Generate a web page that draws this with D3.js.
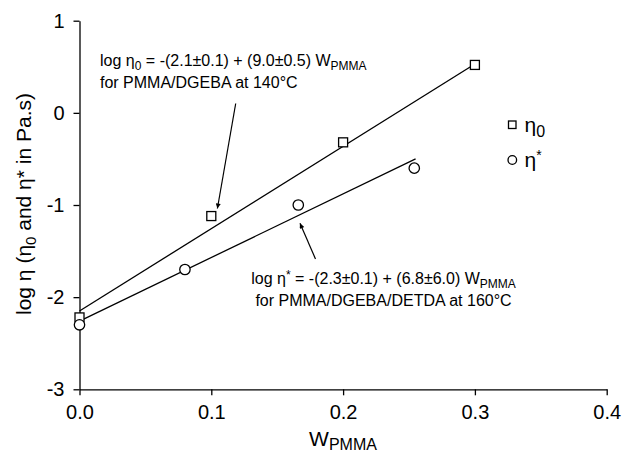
<!DOCTYPE html>
<html>
<head>
<meta charset="utf-8">
<script src="https://cdn.jsdelivr.net/npm/d3@7"></script>
<style>
  html, body { margin: 0; padding: 0; background: #fff; }
  svg { display: block; }
  text { font-family: "Liberation Sans", Arial, Helvetica, sans-serif; fill: #000; }
</style>
</head>
<body>
<svg id="chart" width="622" height="457"></svg>
<script>
// Zero-shear viscosity (squares) and complex viscosity (circles) vs PMMA weight fraction
const wEta0 = [0, 0.1, 0.2, 0.3];
const logEta0 = [-2.22, -1.12, -0.32, 0.52];

const wEtaStar = [0, 0.08, 0.166, 0.254];
const logEtaStar = [-2.30, -1.70, -1.00, -0.60];

// Linear fits, as end points
const fitEta0W = [0, 0.3];
const fitEta0 = [-2.15, 0.53];
const fitStarW = [0, 0.255];
const fitStar = [-2.26, -0.50];

const xTicks = [0, 0.1, 0.2, 0.3, 0.4];
const yTicks = [-3, -2, -1, 0, 1];

const svg = d3.select("#chart");

const x = d3.scaleLinear().domain([0, 0.4]).range([79.5, 606.7]);
const y = d3.scaleLinear().domain([-3, 1]).range([389.3, 20.7]);

// Axes
const xAxis = d3.axisBottom(x).tickValues(xTicks).tickFormat(d3.format(".1f"))
  .tickSize(6).tickSizeOuter(0).tickPadding(10);
const yAxis = d3.axisLeft(y).tickValues(yTicks).tickFormat(d => String(d))
  .tickSize(6).tickSizeOuter(0).tickPadding(9);

const gx = svg.append("g").attr("transform", `translate(0,${y(-3)})`).call(xAxis);
const gy = svg.append("g").attr("transform", `translate(${x(0)},0)`).call(yAxis);

[gx, gy].forEach(g => {
  g.selectAll("path.domain").attr("stroke", "#000").attr("stroke-width", 1.3);
  g.selectAll(".tick line").attr("stroke", "#000").attr("stroke-width", 1.3);
  g.selectAll(".tick text").style("font-size", "20px").attr("fill", "#000");
});

// Axis titles
const xTitle = svg.append("text").attr("x", 343).attr("y", 446)
  .attr("text-anchor", "middle").style("font-size", "21px");
xTitle.append("tspan").text("W");
xTitle.append("tspan").attr("dy", 4).style("font-size", "16px").text("PMMA");

const yTitle = svg.append("text")
  .attr("transform", "translate(31,204) rotate(-90)")
  .attr("text-anchor", "middle").style("font-size", "21px");
yTitle.append("tspan").text("log η (η");
yTitle.append("tspan").attr("dy", 5).style("font-size", "15px").text("0");
yTitle.append("tspan").attr("dy", -5).text(" and η* in Pa.s)");

// Fit lines
const line = d3.line().x(d => x(d[0])).y(d => y(d[1]));
svg.append("path").datum(d3.zip(fitEta0W, fitEta0)).attr("d", line)
  .attr("fill", "none").attr("stroke", "#000").attr("stroke-width", 1.3);
svg.append("path").datum(d3.zip(fitStarW, fitStar)).attr("d", line)
  .attr("fill", "none").attr("stroke", "#000").attr("stroke-width", 1.3);

// Markers
const sq = 9;
svg.append("g").selectAll("rect").data(d3.zip(wEta0, logEta0)).join("rect")
  .attr("x", d => x(d[0]) - sq / 2).attr("y", d => y(d[1]) - sq / 2)
  .attr("width", sq).attr("height", sq)
  .attr("fill", "#fff").attr("stroke", "#000").attr("stroke-width", 1.3);
svg.append("g").selectAll("circle").data(d3.zip(wEtaStar, logEtaStar)).join("circle")
  .attr("cx", d => x(d[0])).attr("cy", d => y(d[1])).attr("r", 5.2)
  .attr("fill", "#fff").attr("stroke", "#000").attr("stroke-width", 1.3);

// Arrowhead
svg.append("defs").append("marker")
  .attr("id", "arrow").attr("viewBox", "0 0 10 10")
  .attr("refX", 10).attr("refY", 5)
  .attr("markerWidth", 11).attr("markerHeight", 5)
  .attr("markerUnits", "userSpaceOnUse")
  .attr("orient", "auto")
  .append("path").attr("d", "M0,0 L10,5 L0,10 Z").attr("fill", "#000");

// Annotation 1 (zero-shear)
const a1 = svg.append("g").style("font-size", "16px");
const a1l1 = a1.append("text").attr("x", 100).attr("y", 66);
a1l1.append("tspan").text("log η");
a1l1.append("tspan").attr("dy", 4).style("font-size", "12px").text("0");
a1l1.append("tspan").attr("dy", -4).text(" = -(2.1±0.1) + (9.0±0.5) W");
a1l1.append("tspan").attr("dy", 4).style("font-size", "12px").text("PMMA");
a1.append("text").attr("x", 100).attr("y", 87.5).text("for PMMA/DGEBA at 140°C");

svg.append("line")
  .attr("x1", 235.7).attr("y1", 103.5).attr("x2", 217.4).attr("y2", 208.5)
  .attr("stroke", "#000").attr("stroke-width", 1.2).attr("marker-end", "url(#arrow)");

// Annotation 2 (complex viscosity)
const a2 = svg.append("g").style("font-size", "16px");
const a2l1 = a2.append("text").attr("x", 383.5).attr("y", 284).attr("text-anchor", "middle");
a2l1.append("tspan").text("log η");
a2l1.append("tspan").attr("dy", -5).style("font-size", "12px").text("*");
a2l1.append("tspan").attr("dy", 5).text(" = -(2.3±0.1) + (6.8±6.0) W");
a2l1.append("tspan").attr("dy", 4).style("font-size", "12px").text("PMMA");
a2.append("text").attr("x", 383.5).attr("y", 305.5).attr("text-anchor", "middle")
  .text("for PMMA/DGEBA/DETDA at 160°C");

svg.append("line")
  .attr("x1", 315.5).attr("y1", 259).attr("x2", 300).attr("y2", 223.3)
  .attr("stroke", "#000").attr("stroke-width", 1.2).attr("marker-end", "url(#arrow)");

// Legend
const leg = svg.append("g");
leg.append("rect").attr("x", 508.5).attr("y", 121).attr("width", 7.5).attr("height", 7.5)
  .attr("fill", "#fff").attr("stroke", "#000").attr("stroke-width", 1.3);
leg.append("circle").attr("cx", 512.3).attr("cy", 160).attr("r", 4.3)
  .attr("fill", "#fff").attr("stroke", "#000").attr("stroke-width", 1.3);
const l1 = leg.append("text").attr("x", 524.5).attr("y", 131.5).style("font-size", "21px");
l1.append("tspan").text("η");
l1.append("tspan").attr("dy", 5).style("font-size", "16px").text("0");
const l2 = leg.append("text").attr("x", 524.5).attr("y", 166.5).style("font-size", "21px");
l2.append("tspan").text("η");
l2.append("tspan").attr("dy", -7).style("font-size", "14px").text("*");
</script>
</body>
</html>
